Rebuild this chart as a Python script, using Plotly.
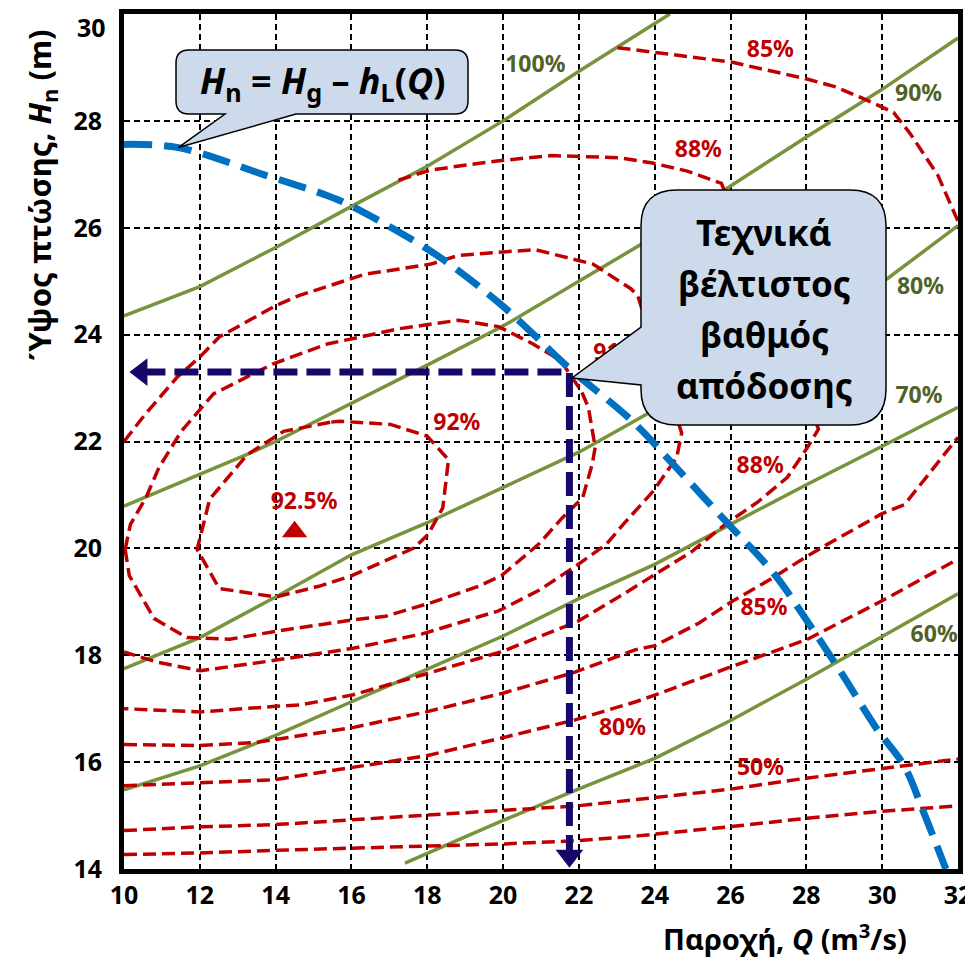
import plotly.graph_objects as go

# ---------------- data ----------------
# Net head curve H_n = H_g - h_L(Q)
hn_Q = [10, 11.43, 13.7, 15.37, 15.99, 18.2, 19.88, 20.78, 21.7, 23.41, 24.49, 25.95,
        27.12, 28.03, 28.94, 29.86, 30.58, 31.1, 31.68]
hn_H = [27.56, 27.5, 26.99, 26.6, 26.41, 25.51, 24.6, 24.02, 23.4, 22.38, 21.57, 20.45,
        19.55, 18.63, 17.65, 16.62, 15.93, 15.05, 14.0]

# Green (solid) lines
g100_Q = [10, 12, 14, 16, 18, 20, 22, 23.3, 24.4]
g100_H = [24.35, 24.9, 25.63, 26.4, 27.15, 28.0, 28.93, 29.5, 30.0]
g90_Q = [10, 12, 13.25, 14, 16, 18, 20, 22, 24, 26, 28, 30, 32]
g90_H = [20.79, 21.38, 21.76, 22.0, 22.71, 23.43, 24.16, 25.0, 25.84, 26.78, 27.7, 28.59, 29.55]
g80_Q = [10, 12, 14, 16, 18, 20, 22, 23.41, 30.16, 32]
g80_H = [17.75, 18.33, 19.09, 19.88, 20.48, 21.14, 21.8, 22.36, 25.06, 26.04]
g70_Q = [10, 12, 14, 16, 18, 20, 22, 24, 26, 28, 30, 32]
g70_H = [15.48, 15.93, 16.5, 17.13, 17.74, 18.36, 19.06, 19.7, 20.45, 21.19, 21.91, 22.64]
g60_Q = [17.41, 18, 20, 22, 24, 26, 28, 30, 32]
g60_H = [14.11, 14.29, 14.91, 15.5, 16.07, 16.78, 17.55, 18.35, 19.15]

# Red (dashed) efficiency contours
r92_Q = [15.44, 14.21, 13.26, 12.26, 11.93, 12.51, 14.0, 15.14, 16.01, 17.66, 18.02, 18.41,
         18.56, 18.0, 17.03, 15.68, 15.44]
r92_H = [22.36, 22.19, 21.76, 20.92, 19.98, 19.25, 19.09, 19.29, 19.49, 20.01, 20.26, 20.76,
         21.66, 22.1, 22.32, 22.38, 22.36]
r91_Q = [10.03, 10.17, 10.58, 10.92, 11.51, 12.36, 13.92, 15.39, 17.26, 18.83, 19.88, 20.78,
         21.51, 21.7, 22.06, 22.25, 22.43, 22.35, 22.1, 21.56, 20.94, 19.96, 19.35, 18.13,
         16.9, 16.03, 14.1, 12.79, 11.66, 10.79, 10.14, 10.03]
r91_H = [19.98, 20.45, 20.95, 21.51, 22.19, 22.89, 23.45, 23.83, 24.11, 24.27, 24.15, 23.83,
         23.52, 23.33, 22.95, 22.64, 21.89, 21.57, 20.95, 20.57, 20.08, 19.49, 19.29, 18.99,
         18.73, 18.66, 18.46, 18.3, 18.33, 18.69, 19.49, 19.98]
r90_Q = [10, 10.56, 11.41, 12.0, 12.52, 14.0, 14.61, 16.36, 18.1, 18.81, 19.86, 20.85, 22.37,
         23.37, 23.55, 24.71, 24.58, 23.96, 23.17, 22.73, 21.94, 20.96, 19.88, 17.87, 16.04,
         13.93, 12.01, 10.89, 10]
r90_H = [22.0, 22.51, 23.21, 23.58, 23.96, 24.54, 24.73, 25.13, 25.32, 25.48, 25.54, 25.59,
         25.32, 24.86, 24.73, 22.16, 21.7, 21.07, 20.45, 20.08, 19.68, 19.22, 18.83, 18.4,
         18.13, 17.9, 17.71, 17.87, 18.06]
r88_Q = [17.24, 18.08, 19.84, 21.26, 23.06, 23.94, 24.86, 25.76, 28.32, 28.03, 27.5, 26.74,
         25.86, 24.98, 24.07, 23.19, 21.96, 19.98, 17.96, 16.05, 14.65, 13.92, 12.02, 10]
r88_H = [26.89, 27.08, 27.25, 27.35, 27.31, 27.21, 27.06, 26.83, 22.23, 21.89, 21.33, 20.88,
         20.45, 19.94, 19.54, 19.15, 18.63, 18.07, 17.65, 17.26, 17.07, 17.04, 16.94, 17.0]
r85top_Q = [23.02, 24.0, 26.02, 28.04, 28.75, 29.49, 30.3, 30.75, 31.47, 32.0]
r85top_H = [29.37, 29.28, 29.1, 28.78, 28.64, 28.42, 28.16, 27.75, 26.98, 26.12]
r85_Q = [10, 11.99, 13.51, 14.74, 16.06, 17.97, 19.99, 21.88, 23.48, 24.01, 25.16, 26.07,
         27.12, 28.01, 28.54, 29.97, 30.59, 32.0]
r85_H = [16.33, 16.31, 16.37, 16.5, 16.65, 16.94, 17.29, 17.68, 18.1, 18.18, 18.6, 19.02,
         19.45, 19.85, 20.07, 20.64, 20.82, 22.08]
r80_Q = [10, 12.0, 13.97, 14.76, 16.07, 17.99, 20.01, 21.9, 23.5, 24.02, 26.0, 28.03, 30.0, 31.95]
r80_H = [15.56, 15.61, 15.67, 15.76, 15.9, 16.12, 16.46, 16.79, 17.13, 17.26, 17.78, 18.3, 19.02, 19.78]
r50_Q = [10, 12.01, 13.99, 16.09, 18.01, 20.04, 21.93, 23.53, 25.95, 28.0, 29.97, 32.0]
r50_H = [14.72, 14.79, 14.83, 14.93, 15.01, 15.1, 15.18, 15.3, 15.49, 15.7, 15.87, 16.06]
r40_Q = [10, 12, 14, 16.1, 18.02, 20.05, 21.95, 23.55, 25.97, 28.02, 29.98, 32.0]
r40_H = [14.27, 14.3, 14.35, 14.39, 14.42, 14.47, 14.53, 14.62, 14.79, 14.95, 15.08, 15.18]

# Best-efficiency point
peak_Q = [14.5]
peak_H = [20.31]
opt_Q = 21.75
opt_H = 23.3

# Labels
lab_red_text = ["92.5%", "92%", "91%", "88%", "88%", "85%", "85%", "80%", "50%"]
lab_red_Q = [14.75, 18.78, 23.0, 25.15, 26.78, 27.05, 26.88, 23.15, 26.79]
lab_red_H = [20.84, 22.32, 23.64, 27.44, 21.51, 29.31, 18.87, 16.62, 15.86]
lab_green_text = ["100%", "90%", "80%", "70%", "60%"]
lab_green_Q = [20.85, 30.96, 31.01, 30.97, 31.37]
lab_green_H = [29.03, 28.48, 24.87, 22.83, 18.35]

x_ticks = [10, 12, 14, 16, 18, 20, 22, 24, 26, 28, 30, 32]
y_ticks = [14, 16, 18, 20, 22, 24, 26, 28, 30]

# ---------------- styling ----------------
RED = "#C00000"
GREEN = "#77933C"
GREEN_TXT = "#4F6228"
BLUE = "#0070C0"
NAVY = "#15086A"
FILL = "#CCDAEB"
FONT = "Noto Sans"

W, H = 973, 959
OFF = 5                                   # page offset of the figure inside the html body
PL, PR, PT, PB = 121, 955, 11, 866        # plot area in page pixels
X0, X1, Y0, Y1 = 10.0, 32.0, 14.0, 30.0


def px2q(px):
    return X0 + (px - PL) * (X1 - X0) / (PR - PL)


def py2h(py):
    return Y1 - (py - PT) * (Y1 - Y0) / (PB - PT)


def P(px, py):
    return f"{px2q(px):.4f},{py2h(py):.4f}"


fig = go.Figure()


def add_line(q, h, name, color, width, dash="solid", shape="linear"):
    fig.add_trace(go.Scatter(x=q, y=h, mode="lines", name=name, hoverinfo="skip",
                             line=dict(color=color, width=width, dash=dash, shape=shape)))


for q, h, n in [(g100_Q, g100_H, "100%"), (g90_Q, g90_H, "90%"), (g80_Q, g80_H, "80%"),
                (g70_Q, g70_H, "70%"), (g60_Q, g60_H, "60%")]:
    add_line(q, h, n, GREEN, 3.5)

for q, h, n in [(r92_Q, r92_H, "92%"), (r91_Q, r91_H, "91%"), (r90_Q, r90_H, "90%"),
                (r88_Q, r88_H, "88%"), (r85top_Q, r85top_H, "85%"), (r85_Q, r85_H, "85%"),
                (r80_Q, r80_H, "80%"), (r50_Q, r50_H, "50%"), (r40_Q, r40_H, "40%")]:
    add_line(q, h, n, RED, 3.5, dash="13px,6px")

# labels
fig.add_trace(go.Scatter(x=lab_red_Q, y=lab_red_H, text=lab_red_text, mode="text",
                         textposition="middle center", hoverinfo="skip",
                         textfont=dict(family=FONT, size=23, color=RED, weight="bold")))
fig.add_trace(go.Scatter(x=lab_green_Q, y=lab_green_H, text=lab_green_text, mode="text",
                         textposition="middle center", hoverinfo="skip",
                         textfont=dict(family=FONT, size=23, color=GREEN_TXT, weight="bold")))

# peak marker
fig.add_trace(go.Scatter(x=peak_Q, y=peak_H, mode="markers", hoverinfo="skip",
                         marker=dict(symbol="triangle-up", size=22, color=RED)))

# net head curve
add_line(hn_Q, hn_H, "Hn", BLUE, 7, dash="28px,12px", shape="spline")

# arrows to the axes
head_dx, head_dy = 0.46, 0.25
fig.add_trace(go.Scatter(x=[X0 + head_dx, opt_Q, opt_Q], y=[opt_H, opt_H, Y0 + head_dy],
                         mode="lines", hoverinfo="skip",
                         line=dict(color=NAVY, width=7, dash="24px,9px")))
fig.add_trace(go.Scatter(x=[X0 + head_dx, opt_Q], y=[opt_H, Y0 + head_dy], mode="markers",
                         hoverinfo="skip",
                         marker=dict(symbol=["triangle-left", "triangle-down"], size=24,
                                     color=NAVY)))

# ---------------- callouts ----------------
l, t, R, B, r = 173, 47, 465, 111, 13
tip1 = f"{hn_Q[1]:.4f},{hn_H[1]:.4f}"
path1 = (f"M{P(l + r, t)} L{P(R - r, t)} Q{P(R, t)} {P(R, t + r)} L{P(R, B - r)} "
         f"Q{P(R, B)} {P(R - r, B)} L{P(293, B)} L{tip1} L{P(222, B)} L{P(l + r, B)} "
         f"Q{P(l, B)} {P(l, B - r)} L{P(l, t + r)} Q{P(l, t)} {P(l + r, t)} Z")
l, t, R, B, r = 638, 187, 883, 422, 36
path2 = (f"M{P(l + r, t)} L{P(R - r, t)} Q{P(R, t)} {P(R, t + r)} L{P(R, B - r)} "
         f"Q{P(R, B)} {P(R - r, B)} L{P(l + r, B)} Q{P(l, B)} {P(l, B - r)} "
         f"L{P(l, 382)} L{P(569, 375)} L{P(l, 324)} L{P(l, t + r)} Q{P(l, t)} {P(l + r, t)} Z")

shapes = [dict(type="path", path=p, xref="x", yref="y", fillcolor=FILL,
               line=dict(color="black", width=1.5), layer="above") for p in (path1, path2)]


def paper_x(px):
    return (px - PL) / (PR - PL)


def paper_y(py):
    return (PB - py) / (PB - PT)


annotations = [
    dict(x=px2q(319), y=py2h(79), xref="x", yref="y", showarrow=False,
         xanchor="center", yanchor="middle",
         text="<b><i>H</i><sub>n</sub> = <i>H</i><sub>g</sub> – <i>h</i><sub>L</sub>(<i>Q</i>)</b>",
         font=dict(family=FONT, size=36, color="black")),
]
for txt, py in [("Τεχνικά", 229), ("βέλτιστος", 280), ("βαθμός", 331), ("απόδοσης", 382)]:
    annotations.append(dict(x=px2q(761), y=py2h(py), xref="x", yref="y", showarrow=False,
                            xanchor="center", yanchor="middle",
                            text=f"<b>{txt}</b>", font=dict(family=FONT, size=35, color="black")))

annotations.append(dict(x=paper_x(38), y=paper_y(192), xref="paper", yref="paper",
                        showarrow=False, textangle=-90, xanchor="center", yanchor="middle",
                        text="<b>Ύψος πτώσης, <i>H</i><sub>n</sub> (m)</b>",
                        font=dict(family=FONT, size=31, color="black")))
annotations.append(dict(x=paper_x(782), y=paper_y(934), xref="paper", yref="paper",
                        showarrow=False, xanchor="center", yanchor="middle",
                        text="<b>Παροχή, <i>Q</i> (m<sup>3</sup>/s)</b>",
                        font=dict(family=FONT, size=29, color="black")))
# top y tick label, set just below the frame top so that it is not cut at the page edge
annotations.append(dict(x=paper_x(104), y=paper_y(OFF + 1), xref="paper", yref="paper",
                        showarrow=False, xanchor="right", yanchor="top", borderpad=0,
                        text=f"{y_ticks[-1]}",
                        font=dict(family=FONT, size=25, color="black", weight="bold")))

y_ticktext = [str(v) for v in y_ticks[:-1]] + [""]

axis_common = dict(showgrid=True, gridcolor="black", gridwidth=1.5, griddash="6px,4px",
                   showline=True, linecolor="black", linewidth=5, mirror=True,
                   zeroline=False, ticks="", automargin=False, ticklabeloverflow="allow",
                   tickfont=dict(family=FONT, size=25, color="black", weight="bold"))

fig.update_layout(
    width=W, height=H,
    margin=dict(l=PL - OFF, r=W - (PR - OFF), t=PT - OFF, b=H - (PB - OFF), pad=0,
                autoexpand=False),
    paper_bgcolor="white", plot_bgcolor="white",
    showlegend=False,
    xaxis=dict(range=[X0, X1], tickvals=x_ticks, ticklabelstandoff=0, **axis_common),
    yaxis=dict(range=[Y0, Y1], tickvals=y_ticks, ticktext=y_ticktext,
               ticklabelstandoff=12, **axis_common),
    shapes=shapes,
    annotations=annotations,
)

fig.write_html("out.html")
